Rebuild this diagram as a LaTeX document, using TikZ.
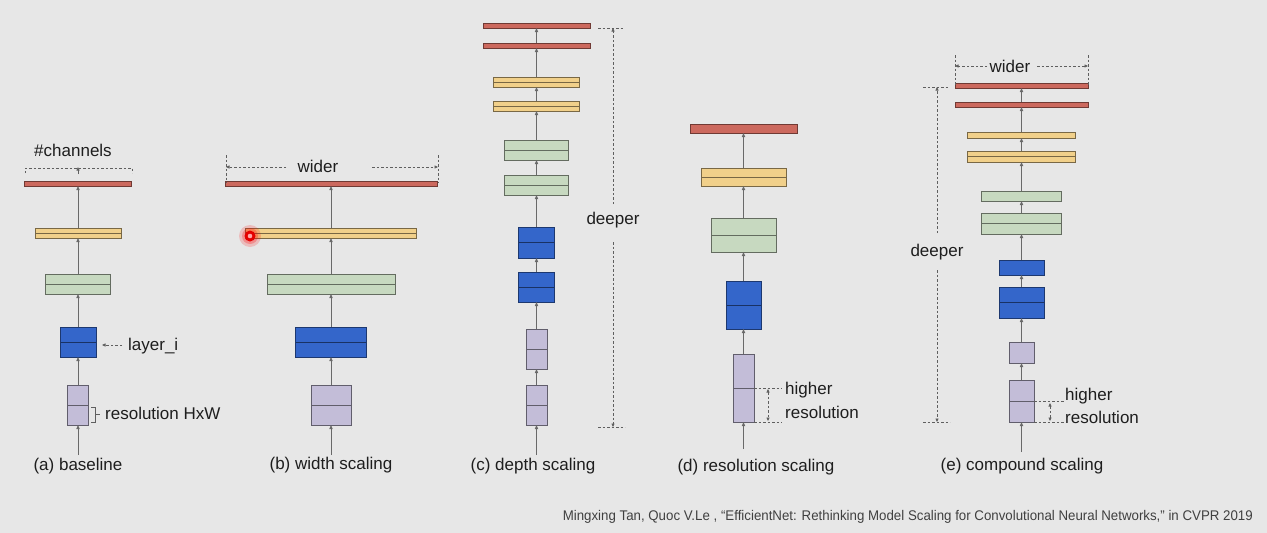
\documentclass[tikz,border=0pt]{standalone}
\usepackage{fontspec}
\setmainfont{Liberation Sans}
\usetikzlibrary{arrows.meta}
\definecolor{bg}{RGB}{231,231,231}
\definecolor{cred}{RGB}{204,105,94}
\definecolor{cyel}{RGB}{241,208,138}
\definecolor{cgrn}{RGB}{199,217,192}
\definecolor{cblu}{RGB}{52,102,202}
\definecolor{cpur}{RGB}{195,189,216}
\definecolor{lgray}{RGB}{105,105,105}
\definecolor{dgray}{RGB}{95,95,95}
\definecolor{txt}{RGB}{30,30,30}
\tikzset{
  blk/.style={rectangle, draw, line width=0.8pt, inner sep=0pt, outer sep=0pt},
  redb/.style={blk, fill=cred, draw=cred!55!black},
  yelb/.style={blk, fill=cyel, draw=cyel!50!black},
  grnb/.style={blk, fill=cgrn, draw=cgrn!50!black},
  blub/.style={blk, fill=cblu, draw=cblu!55!black},
  purb/.style={blk, fill=cpur, draw=cpur!50!black},
  mid/.style={path picture={\draw[line width=0.9pt, black, opacity=0.5] (path picture bounding box.west) -- (path picture bounding box.east);}},
  conn/.style={draw=lgray, line width=0.9pt, -{Triangle[length=4pt,width=3.2pt]}},
  dim/.style={draw=dgray, line width=0.7pt, dash pattern=on 2.5pt off 2pt},
  dimtip/.style={dim, -{Triangle[length=3.5pt,width=3pt]}},
  dimtips/.style={dim, {Triangle[length=3.5pt,width=3pt]}-{Triangle[length=3.5pt,width=3pt]}},
  lbl/.style={font=\fontsize{17}{20}\selectfont, inner sep=0pt, text=txt},
}
\newcommand\bx[6]{%
  \pgfmathsetmacro\bw{#4}\pgfmathsetmacro\bh{#6-#5}\pgfmathsetmacro\by{(#5+#6)/2}%
  \node[#2, minimum width=\bw pt, minimum height=\bh pt] (#1) at (#3,\by) {};}
\begin{document}
\begin{tikzpicture}[x=1pt,y=-1pt]
\fill[bg] (0,0) rectangle (1267,533);
\useasboundingbox (0,0) rectangle (1267,533);

% ---------- (a) baseline ----------
\bx{a5}{redb}{78}{107}{181}{186}
\bx{a4}{yelb,mid}{78}{86}{228}{238}
\bx{a3}{grnb,mid}{78}{65}{274}{294}
\bx{a2}{blub,mid}{78}{36}{327}{357}
\bx{a1}{purb,mid}{78}{21}{385}{425}
\coordinate (ain) at (78,455);
\draw[conn] (ain) -- (a1.south);
\draw[conn] (a1.north) -- (a2.south);
\draw[conn] (a2.north) -- (a3.south);
\draw[conn] (a3.north) -- (a4.south);
\draw[conn] (a4.north) -- (a5.south);
\node[lbl] (acap) at (78,466) {(a) baseline};
\node[lbl] (ach) at (73,150) {\#channels};
\coordinate (achl) at (25,173); \coordinate (achr) at (132,173);
\coordinate (achlt) at (25,168); \coordinate (achrt) at (132,168);
\draw[dim] (achl) -- (achlt) -- (achrt) -- (achr);
\coordinate (acha) at (78,174); \coordinate (achb) at (78,167);
\draw[draw=dgray, line width=0.7pt, -{Triangle[length=3.5pt,width=3pt]}] (acha) -- (achb);
\node[lbl, anchor=west] (alay) at (128,346) {layer\_i};
\coordinate (alays) at (122,345); \coordinate (alaye) at (102,345);
\draw[dimtip] (alays) -- (alaye);
\node[lbl, anchor=west] (ares) at (105,413) {resolution HxW};
\coordinate (abr1) at (91,407); \coordinate (abr2) at (95,407);
\coordinate (abr3) at (95,422); \coordinate (abr4) at (91,422);
\coordinate (abr5) at (95,414.5); \coordinate (abr6) at (100,414.5);
\draw[dgray, line width=0.8pt] (abr1) -- (abr2) -- (abr3) -- (abr4);
\draw[dgray, line width=0.8pt] (abr5) -- (abr6);

% ---------- (b) width scaling ----------
\bx{b5}{redb}{331}{212}{181}{186}
\bx{b4}{yelb,mid}{331}{171}{228}{238}
\bx{b3}{grnb,mid}{331}{128}{274}{294}
\bx{b2}{blub,mid}{331}{71}{327}{357}
\bx{b1}{purb,mid}{331}{40}{385}{425}
\coordinate (bin) at (331,455);
\draw[conn] (bin) -- (b1.south);
\draw[conn] (b1.north) -- (b2.south);
\draw[conn] (b2.north) -- (b3.south);
\draw[conn] (b3.north) -- (b4.south);
\draw[conn] (b4.north) -- (b5.south);
\node[lbl] (bcap) at (331,465) {(b) width scaling};
\node[lbl] (bwid) at (318,166) {wider};
\coordinate (bvl1) at (226,155); \coordinate (bvl2) at (226,183);
\coordinate (bvr1) at (438,155); \coordinate (bvr2) at (438,183);
\draw[dim] (bvl1) -- (bvl2);
\draw[dim] (bvr1) -- (bvr2);
\coordinate (bwl) at (286,167); \coordinate (bwle) at (226,167);
\coordinate (bwr) at (372,167); \coordinate (bwre) at (438,167);
\draw[dimtip] (bwl) -- (bwle);
\draw[dimtip] (bwr) -- (bwre);
% laser pointer dot
\coordinate (dot) at (250,236);
\fill[red, opacity=0.18] (dot) circle (11);
\fill[red, opacity=0.25] (dot) circle (8);
\fill[red!90!black] (dot) circle (5.5);
\fill[red!35!white] (dot) circle (2.3);

% ---------- (c) depth scaling ----------
\bx{c10}{redb}{536.5}{107}{23}{28}
\bx{c9}{redb}{536.5}{107}{43}{48}
\bx{c8}{yelb,mid}{536.5}{86}{77}{87}
\bx{c7}{yelb,mid}{536.5}{86}{101}{111}
\bx{c6}{grnb,mid}{536.5}{64}{140}{160}
\bx{c5}{grnb,mid}{536.5}{64}{175}{195}
\bx{c4}{blub,mid}{536.5}{36}{227}{258}
\bx{c3}{blub,mid}{536.5}{36}{272}{302}
\bx{c2}{purb,mid}{536.5}{21}{329}{369}
\bx{c1}{purb,mid}{536.5}{21}{385}{425}
\coordinate (cin) at (536.5,455);
\draw[conn] (cin) -- (c1.south);
\foreach \i/\j in {1/2,2/3,3/4,4/5,5/6,6/7,7/8,8/9,9/10}{\draw[conn] (c\i.north) -- (c\j.south);}
\node[lbl] (ccap) at (533,466) {(c) depth scaling};
\node[lbl] (cdeep) at (613,220) {deeper};
\coordinate (ct1) at (598,28); \coordinate (ct2) at (624,28);
\coordinate (cb1) at (598,427); \coordinate (cb2) at (625,427);
\draw[dim] (ct1) -- (ct2);
\draw[dim] (cb1) -- (cb2);
\coordinate (cu) at (613,204); \coordinate (cue) at (613,28);
\coordinate (cd) at (613,242); \coordinate (cde) at (613,427);
\draw[dimtip] (cu) -- (cue);
\draw[dimtip] (cd) -- (cde);

% ---------- (d) resolution scaling ----------
\bx{d5}{redb}{743.5}{107}{124}{133}
\bx{d4}{yelb,mid}{743.5}{85}{168}{186}
\bx{d3}{grnb,mid}{743.5}{65}{218}{252}
\bx{d2}{blub,mid}{743.5}{35}{281}{329}
\bx{d1}{purb,mid}{743.5}{21}{354}{422}
\coordinate (din) at (743.5,449);
\draw[conn] (din) -- (d1.south);
\draw[conn] (d1.north) -- (d2.south);
\draw[conn] (d2.north) -- (d3.south);
\draw[conn] (d3.north) -- (d4.south);
\draw[conn] (d4.north) -- (d5.south);
\node[lbl] (dcap) at (756,467) {(d) resolution scaling};
\node[lbl, anchor=west] (dhi) at (785,390) {higher};
\node[lbl, anchor=west] (dres) at (785,412) {resolution};
\coordinate (dh1) at (782,388); \coordinate (dh2) at (782,422);
\draw[dim] (d1.center -| d1.east) -- (dh1);
\draw[dim] (d1.south east) -- (dh2);
\coordinate (dv1) at (768,389); \coordinate (dv2) at (768,421);
\draw[dimtips] (dv1) -- (dv2);

% ---------- (e) compound scaling ----------
\bx{e10}{redb}{1021.5}{133}{83}{88}
\bx{e9}{redb}{1021.5}{133}{102}{107}
\bx{e8}{yelb}{1021.5}{108}{132}{138}
\bx{e7}{yelb,mid}{1021.5}{108}{151}{162}
\bx{e6}{grnb}{1021.5}{80}{191}{201}
\bx{e5}{grnb,mid}{1021.5}{80}{213}{234}
\bx{e4}{blub}{1021.5}{45}{260}{275}
\bx{e3}{blub,mid}{1021.5}{45}{287}{318}
\bx{e2}{purb}{1021.5}{25}{342}{363}
\bx{e1}{purb,mid}{1021.5}{25}{380}{422}
\coordinate (ein) at (1021.5,452);
\draw[conn] (ein) -- (e1.south);
\foreach \i/\j in {1/2,2/3,3/4,4/5,5/6,6/7,7/8,8/9,9/10}{\draw[conn] (e\i.north) -- (e\j.south);}
\node[lbl] (ecap) at (1022,466) {(e) compound scaling};
\node[lbl] (ewid) at (1010,66) {wider};
\coordinate (evl1) at (955,55); \coordinate (evl2) at (955,85);
\coordinate (evr1) at (1088,55); \coordinate (evr2) at (1088,85);
\draw[dim] (evl1) -- (evl2);
\draw[dim] (evr1) -- (evr2);
\coordinate (ewl) at (987,66); \coordinate (ewle) at (955,66);
\coordinate (ewr) at (1037,66); \coordinate (ewre) at (1088,66);
\draw[dimtip] (ewl) -- (ewle);
\draw[dimtip] (ewr) -- (ewre);
\node[lbl] (edeep) at (937,252) {deeper};
\coordinate (et1) at (923,87); \coordinate (et2) at (949,87);
\coordinate (eb1) at (923,422); \coordinate (eb2) at (950,422);
\draw[dim] (et1) -- (et2);
\draw[dim] (eb1) -- (eb2);
\coordinate (eu) at (937,233); \coordinate (eue) at (937,87);
\coordinate (ed) at (937,270); \coordinate (ede) at (937,422);
\draw[dimtip] (eu) -- (eue);
\draw[dimtip] (ed) -- (ede);
\node[lbl, anchor=west] (ehi) at (1065,396) {higher};
\node[lbl, anchor=west] (eres) at (1065,417) {resolution};
\coordinate (eh1) at (1065,401); \coordinate (eh2) at (1065,422);
\draw[dim] (e1.center -| e1.east) -- (eh1);
\draw[dim] (e1.south east) -- (eh2);
\coordinate (ev1) at (1050,403); \coordinate (ev2) at (1050,421);
\draw[dimtips] (ev1) -- (ev2);

% ---------- citation ----------
\node[anchor=east, inner sep=0pt, text=black!75, font=\fontsize{14}{16}\selectfont] (cite) at (1253,517)
  {\resizebox{690pt}{\height}{Mingxing Tan, Quoc V.Le , “EfficientNet: Rethinking Model Scaling for Convolutional Neural Networks,” in CVPR 2019}};
\end{tikzpicture}
\end{document}
